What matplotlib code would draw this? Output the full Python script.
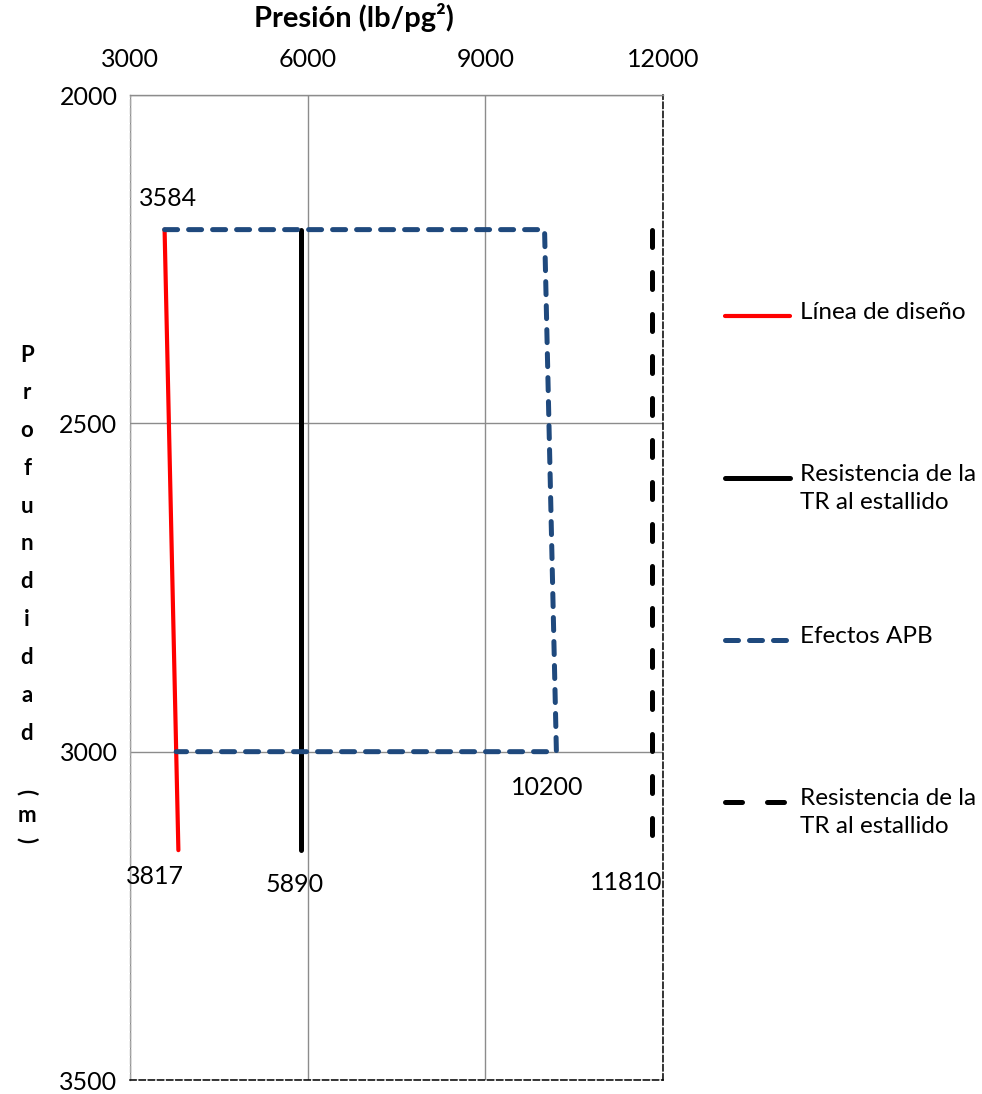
import matplotlib

matplotlib.use("Agg")
import matplotlib.pyplot as plt
from matplotlib.lines import Line2D

# --- data ------------------------------------------------------------------
diseno_p = [3584, 3817]
diseno_z = [2205, 3150]

tr_p = [5890, 5890]
tr_z = [2205, 3150]

apb_p = [3584, 10000, 10200, 3780]
apb_z = [2205, 2205, 3000, 3000]

tr2_p = [11810, 11810]
tr2_z = [2205, 3150]

x_ticks = [3000, 6000, 9000, 12000]
y_ticks = [2000, 2500, 3000, 3500]

legend_labels = ["Línea de diseño", "Resistencia de la\nTR al estallido",
                 "Efectos APB", "Resistencia de la\nTR al estallido"]

# --- style ------------------------------------------------------------------
plt.rcParams["font.family"] = ["Lato", "DejaVu Sans"]
RED, BLACK, BLUE, GRID = "#ff0000", "#000000", "#1f497d", "#8c8c8c"
FS = 18

W, H = 982, 1094
fig = plt.figure(figsize=(W / 100, H / 100), dpi=100)
ax = fig.add_axes([130 / W, 1 - 1080 / H, (663 - 130) / W, (1080 - 95) / H])

style_red = dict(color=RED, lw=3.0, solid_capstyle="round")
style_tr = dict(color=BLACK, lw=3.6, solid_capstyle="round")
style_apb = dict(color=BLUE, lw=3.6, ls=(0, (2.6, 2.2)), dash_capstyle="round",
                 dash_joinstyle="miter")
style_tr2 = dict(color=BLACK, lw=3.6, ls=(0, (3.4, 5.0)), dash_capstyle="round")

ax.plot(diseno_p, diseno_z, zorder=3, **style_red)
ax.plot(tr_p, tr_z, zorder=3, **style_tr)
ax.plot(apb_p, apb_z, zorder=4, **style_apb)
ax.plot(tr2_p, tr2_z, zorder=3, **style_tr2)

ax.set_xlim(3000, 12000)
ax.set_ylim(3500, 2000)
ax.set_xticks(x_ticks)
ax.set_yticks(y_ticks)
ax.xaxis.tick_top()
ax.tick_params(length=0, labelsize=FS)
ax.tick_params(axis="x", pad=17)
ax.tick_params(axis="y", pad=9)
ax.grid(True, color=GRID, lw=1.0)
ax.set_axisbelow(True)

ax.spines["top"].set_color(GRID)
ax.spines["top"].set_linewidth(1.0)
ax.spines["left"].set_color("#a6a6a6")
ax.spines["left"].set_linestyle((0, (4, 2)))
ax.spines["left"].set_linewidth(1.0)
for s in ("right", "bottom"):
    ax.spines[s].set_color(BLACK)
    ax.spines[s].set_linestyle((0, (4, 2)))
    ax.spines[s].set_linewidth(1.1)


# data labels
def lab(txt, x, y, dx, dy):
    ax.annotate(txt, (x, y), xytext=(dx, dy), textcoords="offset pixels",
                ha="center", va="center", fontsize=FS, annotation_clip=False)


lab(f"{diseno_p[0]}", diseno_p[0], diseno_z[0], 3, 31)
lab(f"{diseno_p[1]}", diseno_p[1], diseno_z[1], -23, -26)
lab(f"{tr_p[1]}", tr_p[1], tr_z[1], -7, -34)
lab(f"{apb_p[2]}", apb_p[2], apb_z[2], -9, -36)
lab(f"{tr2_p[1]}", tr2_p[1], tr2_z[1], -26, -32)

# axis titles
fig.text(354 / W, 1 - 18 / H, "Presión (lb/pg²)", ha="center", va="center",
         fontsize=21, fontweight="bold")
letters = list("Profundidad")
for i, ch in enumerate(letters):
    fig.text(27 / W, 1 - (355 + i * 37.8) / H, ch, ha="center", va="center",
             fontsize=16, fontweight="bold")
fig.text(27 / W, 1 - 792 / H, "(", ha="center", va="center", rotation=-90,
         fontsize=16, fontweight="bold")
fig.text(27 / W, 1 - 815 / H, "m", ha="center", va="center",
         fontsize=16, fontweight="bold")
fig.text(27 / W, 1 - 840 / H, ")", ha="center", va="center", rotation=-90,
         fontsize=16, fontweight="bold")

# legend drawn on the right
leg_y = [316, 478, 640, 802]
for y, lbl, st in zip(leg_y, legend_labels, [style_red, style_tr, style_apb, style_tr2]):
    yf = 1 - y / H
    fig.add_artist(Line2D([725 / W, 790 / W], [yf, yf], **st))
    fig.text(800 / W, 1 - (y - 14) / H, lbl, ha="left", va="top", fontsize=17.5,
             linespacing=1.4)

fig.savefig("out.png", dpi=100)
